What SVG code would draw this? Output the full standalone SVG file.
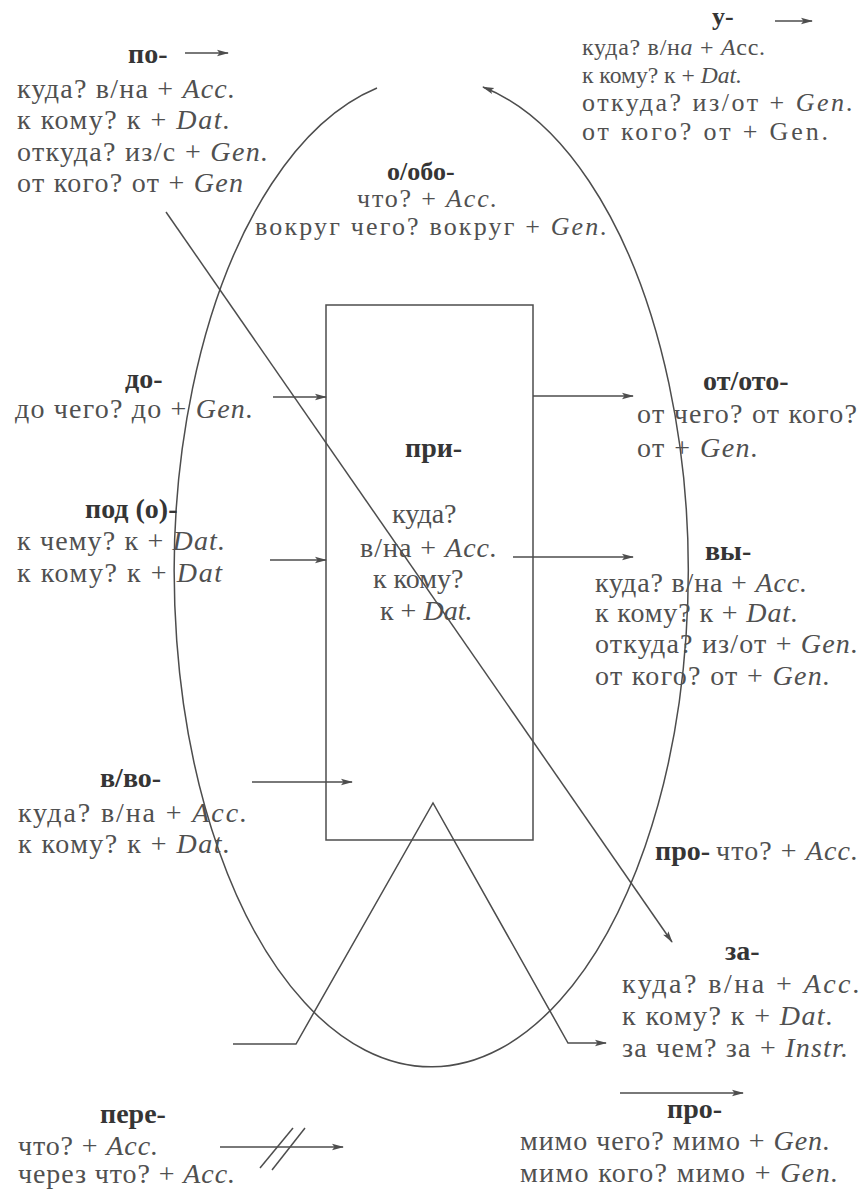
<svg xmlns="http://www.w3.org/2000/svg" width="867" height="1190" viewBox="0 0 867 1190" font-family="'Liberation Serif', 'Times New Roman', serif">
<style>
text{font-family:"Liberation Serif","Times New Roman",serif;font-size:28px;fill:#505050}
.b{font-weight:bold;fill:#353535}
.i{font-style:italic}
.m{font-size:26px}
.s{font-size:24px}
.ln{fill:none;stroke:#4d4d4d;stroke-width:1.5}
</style>
<defs>
<marker id="ah" viewBox="0 0 12 8" refX="11" refY="4" markerWidth="12" markerHeight="8" markerUnits="userSpaceOnUse" orient="auto">
<path d="M0,0.8 L12,4 L0,7.2 L2.5,4 Z" fill="#4d4d4d"/>
</marker>
</defs>
<rect width="867" height="1190" fill="#fff"/>
<g id="connectors">
<path class="ln" d="M377,88 A257,495 0 1 0 483,87" marker-end="url(#ah)"/>
<rect id="pri-box" class="ln" x="326" y="305" width="207" height="535"/>
<line class="ln" x1="166" y1="212" x2="672" y2="942" marker-end="url(#ah)"/>
<path class="ln" d="M233,1044 L296,1044 L433,803 L568,1043 L606,1043" marker-end="url(#ah)"/>
<line class="ln" x1="185" y1="53" x2="228" y2="53" marker-end="url(#ah)"/>
<line class="ln" x1="775" y1="21" x2="812" y2="21" marker-end="url(#ah)"/>
<line class="ln" x1="273" y1="397" x2="326" y2="397" marker-end="url(#ah)"/>
<line class="ln" x1="270" y1="560" x2="326" y2="560" marker-end="url(#ah)"/>
<line class="ln" x1="252" y1="782" x2="352" y2="782" marker-end="url(#ah)"/>
<line class="ln" x1="533" y1="396" x2="633" y2="396" marker-end="url(#ah)"/>
<line class="ln" x1="513" y1="557" x2="633" y2="557" marker-end="url(#ah)"/>
<line class="ln" x1="620" y1="1093" x2="743" y2="1093" marker-end="url(#ah)"/>
<line class="ln" x1="220" y1="1147" x2="343" y2="1147" marker-end="url(#ah)"/>
<line class="ln" x1="260" y1="1168" x2="293" y2="1128"/>
<line class="ln" x1="272" y1="1170" x2="305" y2="1128"/>
</g>
<g id="po">
<text class="b" x="128" y="63">по-</text>
<text x="17" y="98" textLength="218">куда? в/на + <tspan class="i">Acc.</tspan></text>
<text x="17" y="129" textLength="213">к кому? к + <tspan class="i">Dat.</tspan></text>
<text x="17" y="161" textLength="251">откуда? из/с + <tspan class="i">Gen.</tspan></text>
<text x="17" y="192" textLength="226">от кого? от + <tspan class="i">Gen</tspan></text>
</g>
<g id="u">
<text class="b m" x="712" y="25">у-</text>
<text class="s" x="582" y="55" textLength="183">куда? в/н<tspan class="i">а</tspan> + <tspan class="i">A</tspan>cc.</text>
<text class="s" x="582" y="83" textLength="160" lengthAdjust="spacingAndGlyphs">к кому? к + <tspan class="i">Dat.</tspan></text>
<text class="m" x="582" y="111" textLength="271">откуда? из/от + <tspan class="i">Gen.</tspan></text>
<text class="m" x="582" y="140" textLength="246">от кого? от + Gen.</text>
</g>
<g id="obo">
<text class="b m" x="387" y="180">о/обо-</text>
<text class="m" x="357" y="207" textLength="140">что? + <tspan class="i">Acc.</tspan></text>
<text class="m" x="255" y="235" textLength="352">вокруг чего? вокруг + <tspan class="i">Gen.</tspan></text>
</g>
<g id="do">
<text class="b" x="125" y="388">до-</text>
<text x="15" y="418" textLength="238">до чего? до + <tspan class="i">Gen.</tspan></text>
</g>
<g id="pod">
<text class="b" x="85" y="518">под (о)-</text>
<text x="17" y="550" textLength="208">к чему? к + <tspan class="i">Dat.</tspan></text>
<text x="17" y="582" textLength="205">к кому? к + <tspan class="i">Dat</tspan></text>
</g>
<g id="pri">
<text class="b" x="405" y="457">при-</text>
<text x="392" y="523">куда?</text>
<text x="360" y="557" textLength="137">в/на + <tspan class="i">Acc.</tspan></text>
<text x="373" y="588">к кому?</text>
<text x="380" y="620">к + <tspan class="i">Dat.</tspan></text>
</g>
<g id="oto">
<text class="b" x="703" y="390">от/ото-</text>
<text x="637" y="423" textLength="220">от чего? от кого?</text>
<text x="637" y="457" textLength="121">от + <tspan class="i">Gen.</tspan></text>
</g>
<g id="vy">
<text class="b" x="705" y="560">вы-</text>
<text x="595" y="592" textLength="212">куда? в/на + <tspan class="i">Acc.</tspan></text>
<text x="595" y="622" textLength="203">к кому? к + <tspan class="i">Dat.</tspan></text>
<text x="595" y="653" textLength="263">откуда? из/от + <tspan class="i">Gen.</tspan></text>
<text x="595" y="685" textLength="235">от кого? от + <tspan class="i">Gen.</tspan></text>
</g>
<g id="vvo">
<text class="b" x="100" y="787">в/во-</text>
<text x="18" y="822" textLength="229">куда? в/на + <tspan class="i">Acc.</tspan></text>
<text x="18" y="853" textLength="212">к кому? к + <tspan class="i">Dat.</tspan></text>
</g>
<g id="pro1">
<text class="b" x="655" y="860">про-</text>
<text x="716" y="860" textLength="142">что? + <tspan class="i">Acc.</tspan></text>
</g>
<g id="za">
<text class="b" x="725" y="960">за-</text>
<text x="622" y="993" textLength="238">куда? в/на + <tspan class="i">Acc.</tspan></text>
<text x="622" y="1025" textLength="211">к кому? к + <tspan class="i">Dat.</tspan></text>
<text x="622" y="1057" textLength="226">за чем? за + <tspan class="i">Instr.</tspan></text>
</g>
<g id="pro2">
<text class="b" x="667" y="1118">про-</text>
<text x="520" y="1150" textLength="310">мимо чего? мимо + <tspan class="i">Gen.</tspan></text>
<text x="520" y="1182" textLength="318">мимо кого? мимо + <tspan class="i">Gen.</tspan></text>
</g>
<g id="pere">
<text class="b" x="100" y="1123">пере-</text>
<text x="18" y="1155" textLength="140">что? + <tspan class="i">Acc.</tspan></text>
<text x="18" y="1183" textLength="217">через что? + <tspan class="i">Acc.</tspan></text>
</g>
</svg>
